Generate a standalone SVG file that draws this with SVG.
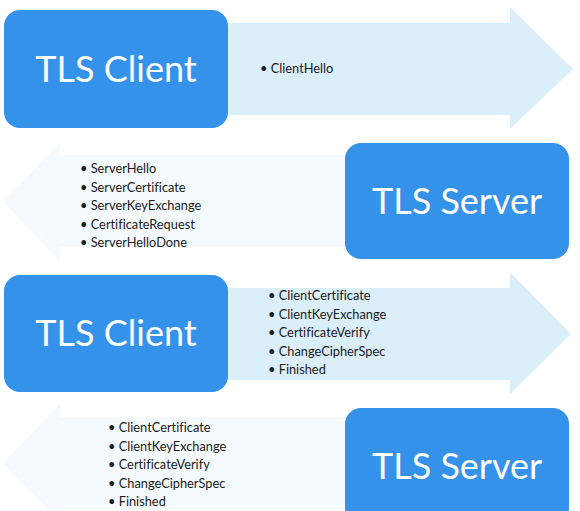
<svg xmlns="http://www.w3.org/2000/svg" width="580" height="511" viewBox="0 0 580 511">
<style>
.box{fill:#3592eb}
.title{font-family:Lato,"Open Sans",sans-serif;font-size:36px;fill:#ffffff;text-anchor:middle}
.item{font-family:Lato,"Open Sans",sans-serif;font-size:12.8px;fill:#1a1a1a;font-variant-ligatures:none}
.arrR{fill:#dbeffb}
.arrL{fill:#f4fafe}
</style>
<rect width="580" height="511" fill="#ffffff"/>
<g id="connectors">
<polygon class="arrR" points="200,23 510,23 510,7 573,69 510,129 510,115 200,115"/>
<polygon class="arrL" points="380,155 60,155 60,143 3,202 60,261 60,247 380,247"/>
<polygon class="arrR" points="200,288 510,288 510,272 571,334 510,394 510,380 200,380"/>
<polygon class="arrL" points="380,417 60,417 60,404 3,463 60,522 60,509 380,509"/>
</g>
<g id="msg1">
<text class="item" x="260" y="73">• ClientHello</text>
</g>
<g id="msg2">
<text class="item" x="80" y="173">• ServerHello</text>
<text class="item" x="80" y="191.5">• ServerCertificate</text>
<text class="item" x="80" y="210">• ServerKeyExchange</text>
<text class="item" x="80" y="228.5">• CertificateRequest</text>
<text class="item" x="80" y="247">• ServerHelloDone</text>
</g>
<g id="msg3">
<text class="item" x="268" y="300">• ClientCertificate</text>
<text class="item" x="268" y="318.5">• ClientKeyExchange</text>
<text class="item" x="268" y="337">• CertificateVerify</text>
<text class="item" x="268" y="355.5">• ChangeCipherSpec</text>
<text class="item" x="268" y="374">• Finished</text>
</g>
<g id="msg4">
<text class="item" x="108" y="432">• ClientCertificate</text>
<text class="item" x="108" y="450.5">• ClientKeyExchange</text>
<text class="item" x="108" y="469">• CertificateVerify</text>
<text class="item" x="108" y="487.5">• ChangeCipherSpec</text>
<text class="item" x="108" y="506">• Finished</text>
</g>
<g id="client1">
<rect class="box" x="4" y="10" width="224" height="118" rx="16"/>
<text class="title" x="116" y="82">TLS Client</text>
</g>
<g id="server1">
<rect class="box" x="345" y="143" width="224" height="116" rx="16"/>
<text class="title" x="457" y="214">TLS Server</text>
</g>
<g id="client2">
<rect class="box" x="4" y="275" width="224" height="117" rx="16"/>
<text class="title" x="116" y="346">TLS Client</text>
</g>
<g id="server2">
<rect class="box" x="345" y="408" width="224" height="116" rx="16"/>
<text class="title" x="457" y="479">TLS Server</text>
</g>
</svg>
